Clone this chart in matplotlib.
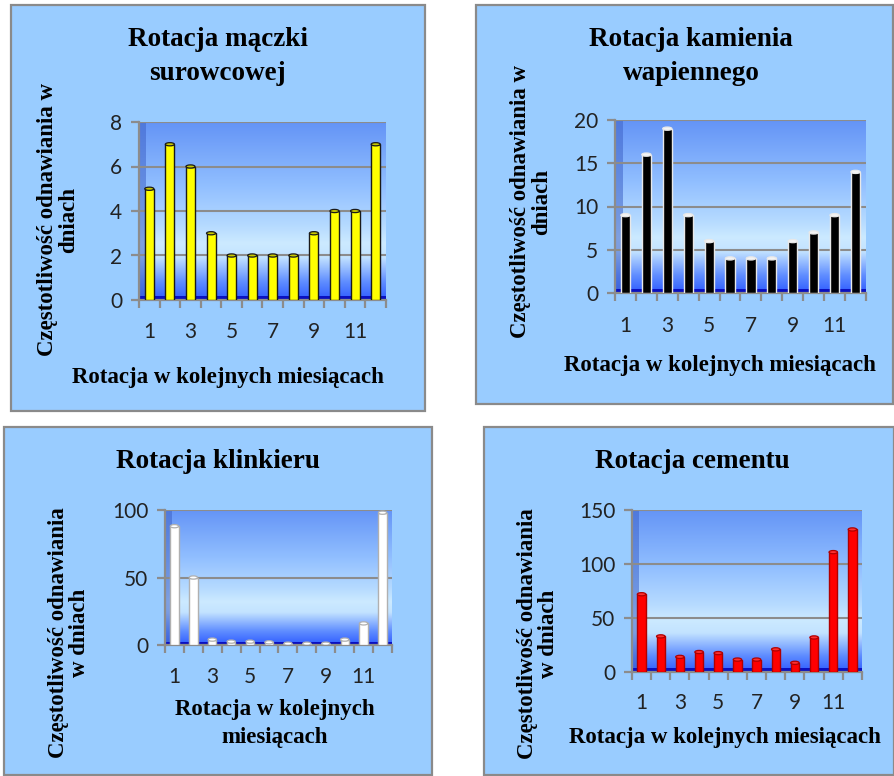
import numpy as np
import matplotlib
matplotlib.use("Agg")
import matplotlib.pyplot as plt
from matplotlib.patches import Rectangle, Ellipse
from matplotlib.colors import LinearSegmentedColormap

W, H = 895, 776

months = list(range(1, 13))
maczka = [5, 7, 6, 3, 2, 2, 2, 2, 3, 4, 4, 7]
kamien = [9, 16, 19, 9, 6, 4, 4, 4, 6, 7, 9, 14]
klinkier = [88, 50, 4, 2.5, 2.5, 2, 1, 1, 1, 4, 16, 98]
cement = [72, 33, 14, 18.5, 17.5, 11.5, 11.5, 21, 8.5, 32, 111, 132]

xtick_labels = ["1", "3", "5", "7", "9", "11"]
xlabel = "Rotacja w kolejnych miesiącach"

SERIF = "Liberation Serif"
SANS = "Lato"

fig = plt.figure(figsize=(W / 100, H / 100), dpi=100)
fig.patch.set_facecolor("white")


def fx(px):
    return px / W


def fy(py):
    return 1 - py / H


def panel(x0, y0, x1, y1):
    fig.patches.append(Rectangle((fx(x0), fy(y1)), fx(x1) - fx(x0), fy(y0) - fy(y1),
                                 transform=fig.transFigure, facecolor="#99CCFF",
                                 edgecolor="#8A8A8A", linewidth=1.6, zorder=-5))


wall = LinearSegmentedColormap.from_list("wall", [
    (0.00, "#2F5CFF"), (0.10, "#5F8DFF"), (0.24, "#C3E3FF"), (0.32, "#CCEAFF"),
    (0.42, "#B5DAFF"), (0.65, "#90BEFF"), (1.00, "#6494F6")])


def chart(box, values, ymax, ystep, face, edge, capface, title_lines, title_y,
          title_x, ylabel, ylabel_x, ylabel_y, xlab_lines, xlab_x, xlab_y, tick_y):
    left, top, right, bottom = box
    ax = fig.add_axes([fx(left), fy(bottom), fx(right) - fx(left), fy(top) - fy(bottom)])
    ax.set_zorder(2)
    ax.set_facecolor("none")
    ax.set_xlim(0.5, 12.5)
    ax.set_ylim(0, ymax)
    # back wall gradient
    grad = np.linspace(0, 1, 256).reshape(-1, 1)
    ax.imshow(grad, cmap=wall, origin="lower", aspect="auto",
              extent=(0.5, 12.5, 0, ymax), zorder=0)
    # side wall and floor
    ax.add_patch(Rectangle((0, 0), 0.03, 1, transform=ax.transAxes,
                           facecolor="#3F63C8", alpha=0.55, edgecolor="none", zorder=1))
    ax.add_patch(Rectangle((0, 0), 1, 0.025, transform=ax.transAxes,
                           facecolor="#0A10C0", edgecolor="none", zorder=1))
    yt = np.arange(0, ymax + 0.001, ystep)
    for v in yt[1:]:
        ax.axhline(v, color="#8C8C8C", lw=1.5, zorder=2)
    bw = 0.44
    ax.bar(months, values, width=bw, color=face, edgecolor=edge, linewidth=1.0, zorder=3)
    hpx = bottom - top
    cap_h = 3.2 * ymax / hpx
    for m, v in zip(months, values):
        ax.add_patch(Ellipse((m, v), bw, cap_h, facecolor=capface, edgecolor=edge,
                             linewidth=0.9, zorder=4))
    for s in ["top", "right"]:
        ax.spines[s].set_visible(False)
    for s in ["left", "bottom"]:
        ax.spines[s].set_color("#8C8C8C")
        ax.spines[s].set_linewidth(1.6)
    ax.set_yticks(yt)
    ax.set_yticklabels([f"{int(v)}" for v in yt], fontsize=15, family=SANS, color="#222222")
    ax.set_xticks(np.arange(0.5, 12.6, 1.0))
    ax.set_xticklabels([])
    ax.tick_params(axis="both", colors="#8C8C8C", length=6, width=1.6)
    ax.tick_params(axis="y", labelcolor="#222222", pad=6)
    for m, lab in zip([1, 3, 5, 7, 9, 11], xtick_labels):
        x_pix = left + (m - 0.5) / 12 * (right - left)
        fig.text(fx(x_pix), fy(tick_y), lab, ha="center", va="center",
                 fontsize=15, family=SANS, color="#222222")
    for i, t in enumerate(title_lines):
        fig.text(fx(title_x), fy(title_y + i * 33), t, ha="center", va="center",
                 fontsize=19.5, weight="bold", family=SERIF)
    for i, t in enumerate(xlab_lines):
        fig.text(fx(xlab_x), fy(xlab_y + i * 27), t, ha="center",
                 va="center", fontsize=16.5, weight="bold", family=SERIF)
    fig.text(fx(ylabel_x), fy(ylabel_y), ylabel, ha="center", va="center", rotation=90,
             fontsize=16.5, weight="bold", family=SERIF, linespacing=1.05)
    return ax


panel(11, 5, 425, 411)
panel(476, 5, 893, 404)
panel(4, 427, 432, 775)
panel(484, 427, 894, 775)

chart((139, 122, 386, 300), maczka, 8, 2, "#FFFF00", "#1A1A1A", "#C8C800",
      ["Rotacja mączki", "surowcowej"], 40, 218,
      "Częstotliwość odnawiania w\ndniach", 58, 220, [xlabel], 228, 377, 332)
chart((615, 120, 866, 293), kamien, 20, 5, "#000000", "#E8E8E8", "#F4F4F4",
      ["Rotacja kamienia", "wapiennego"], 40, 691,
      "Częstotliwość odnawiania w\ndniach", 531, 202, [xlabel], 720, 365, 326)
chart((165, 510, 392, 645), klinkier, 100, 50, "#FFFFFF", "#B0B0B0", "#FFFFFF",
      ["Rotacja klinkieru"], 462, 218,
      "Częstotliwość odnawiania\nw dniach", 69, 633,
      ["Rotacja w kolejnych", "miesiącach"], 275, 710, 677)
chart((632, 510, 862, 672), cement, 150, 50, "#FF0000", "#B00000", "#FF3030",
      ["Rotacja cementu"], 462, 692,
      "Częstotliwość odnawiania\nw dniach", 538, 634, [xlabel], 725, 738, 703)

fig.savefig("out.png", dpi=100)
